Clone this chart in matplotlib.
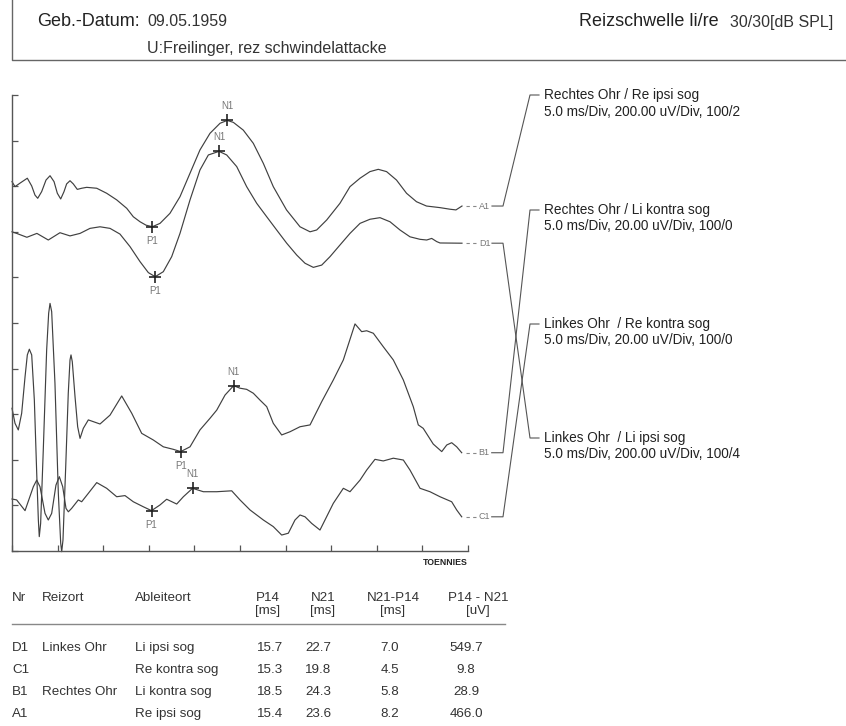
import numpy as np
import matplotlib
matplotlib.use('Agg')
import matplotlib.pyplot as plt

plt.rcParams['font.family'] = ['Liberation Sans', 'DejaVu Sans']

# averaged responses: latency [ms] / amplitude [uV]
a1_t = [0.0, 0.33, 0.86, 1.68, 2.16, 2.52, 2.82, 3.25, 3.73, 4.17, 4.61, 4.97, 5.34, 5.7, 5.99,
        6.36, 6.72, 7.16, 7.64, 8.19, 9.29, 10.38, 11.48, 12.58, 13.3, 14.04, 14.7, 15.4, 16.23,
        17.32, 18.42, 19.52, 20.61, 21.71, 22.81, 23.6, 24.27, 25.36, 26.46, 27.56, 28.65, 30.1,
        31.58, 32.68, 33.41, 34.51, 35.96, 37.06, 38.16, 39.25, 40.16, 41.07, 42.16, 43.26, 44.35,
        45.45, 46.93, 48.03, 48.68, 49.34]
a1_uv = [20, -2, 13, 35, 1, -39, -53, -24, 27, 46, 20, -31, -56, -24, 10,
         24, 10, -14, -9, -5, -9, -31, -60, -97, -134, -156, -171, -177.6, -163,
         -119, -46, 57, 159, 232, 276, 288.4, 280, 246, 188, 100, -2, -104,
         -178, -200, -192, -148, -75, -2, 35, 64, 74, 64, 27, -31, -68,
         -87, -94, -101, -104, -87]

d1_t = [0.0, 0.51, 1.63, 2.73, 3.98, 5.26, 6.36, 7.46, 8.55, 9.65, 10.75, 11.84, 12.94, 14.04,
        14.95, 15.7, 16.59, 17.51, 18.42, 19.52, 20.61, 21.53, 22.7, 23.54, 24.64, 25.73, 26.83,
        27.93, 29.02, 30.12, 31.22, 32.13, 33.04, 33.96, 34.87, 35.96, 37.06, 38.16, 39.25, 40.35,
        41.45, 42.54, 43.64, 44.74, 45.47, 46.02, 46.57, 46.93, 49.34]
d1_uv = [0, -7, -24, -7, -36, -4, -18, -7, 15, 22, 15, -10, -65, -131,
         -179, -196.9, -175, -109, -7, 140, 271, 337, 352.8, 337, 286, 198, 125,
         66, 8, -50, -102, -138, -156, -146, -109, -58, -7, 37, 55, 62,
         44, 8, -22, -33, -36, -29, -43, -49, -50]

b1_t = [0.0, 0.33, 0.69, 1.06, 1.43, 1.68, 1.9, 2.16, 2.45, 2.71, 2.89, 2.99, 3.14, 3.43, 3.8,
        4.02, 4.17, 4.35, 4.71, 5.08, 5.34, 5.45, 5.59, 5.89, 6.17, 6.36, 6.47, 6.61, 6.91, 7.2,
        7.46, 7.82, 8.37, 9.65, 10.75, 12.03, 13.13, 14.22, 15.49, 16.59, 17.68, 18.5, 19.52,
        20.61, 21.71, 22.45, 23.36, 24.3, 25.0, 25.73, 26.46, 27.19, 27.93, 28.65, 29.57, 30.48,
        31.58, 32.68, 33.96, 35.23, 36.33, 37.61, 38.34, 38.89, 39.62, 40.71, 41.81, 42.91, 44.0,
        44.55, 45.09, 46.19, 47.12, 47.67, 48.21, 48.76, 49.31]
b1_uv = [2.6, -4.0, -6.9, 0.4, 16.4, 26.0, 28.5, 26.0, 6.2, -25.9, -46.4, -53.7, -47.9, -15.7, 28.2,
         44.3, 48.6, 45.0, 13.6, -34.7, -56.6, -60.3, -55.2, -23.0, 9.2, 23.8, 26.0, 23.0, 7.7, -5.5,
         -10.6, -6.2, -2.5, -4.3, -0.4, 8.0, 0.4, -8.4, -11.3, -14.3, -15.4, -16.4, -14.3,
         -6.9, -1.8, 1.8, 8.4, 12.5, 11.4, 10.9, 9.2, 6.2, 3.3, -4.0, -9.1, -7.7,
         -5.5, -4.7, 5.5, 15.0, 23.8, 39.6, 36.2, 36.6, 35.5, 29.6, 23.8, 15.0, 3.3,
         -4.7, -6.2, -13.1, -16.4, -13.5, -12.5, -14.3, -16.9]

c1_t = [0.0, 0.51, 1.43, 2.34, 2.71, 3.07, 3.62, 3.98, 4.35, 4.82, 5.19, 5.56, 5.92, 6.18, 6.54,
        7.27, 7.64, 8.37, 9.29, 10.38, 11.48, 12.39, 13.3, 14.4, 15.3, 16.23, 16.96, 18.06, 18.79,
        19.8, 20.98, 22.45, 24.09, 25.0, 26.1, 27.56, 28.65, 29.57, 30.3, 31.03, 31.58, 32.13,
        32.86, 33.77, 34.32, 35.23, 36.33, 37.06, 38.16, 38.89, 39.8, 40.71, 41.81, 42.91, 43.64,
        44.74, 45.83, 46.93, 48.21, 48.76, 49.31]
c1_uv = [2.8, 2.4, -2.3, 8.2, 11.1, 8.2, -3.5, -6.4, -3.5, 8.9, 12.6, 8.2, -1.3, -2.8, -1.3,
         2.4, 1.6, 5.3, 10.0, 7.5, 3.8, 4.3, 1.6, -0.6, -2.3, 0.2, 2.7, 0.6, 3.8,
         7.5, 6.0, 6.0, 6.4, 2.4, -2.0, -6.4, -9.3, -13.0, -12.2, -6.4, -4.2, -5.0,
         -7.9, -10.8, -6.4, 0.9, 7.5, 6.0, 11.1, 15.5, 20.2, 19.5, 20.7, 19.9, 15.5,
         7.5, 6.0, 3.8, 1.6, -2.0, -5.0]

# result table
nr = ['D1', 'C1', 'B1', 'A1']
reizort = ['Linkes Ohr', '', 'Rechtes Ohr', '']
ableiteort = ['Li ipsi sog', 'Re kontra sog', 'Li kontra sog', 'Re ipsi sog']
p14 = [15.7, 15.3, 18.5, 15.4]
n21 = [22.7, 19.8, 24.3, 23.6]
amp = [549.7, 9.8, 28.9, 466.0]

legend_chan = ['A1', 'B1', 'C1', 'D1']
legend_title = ['Rechtes Ohr / Re ipsi sog', 'Rechtes Ohr / Li kontra sog',
                'Linkes Ohr  / Re kontra sog', 'Linkes Ohr  / Li ipsi sog']
legend_info = ['5.0 ms/Div, 200.00 uV/Div, 100/2', '5.0 ms/Div, 20.00 uV/Div, 100/0',
               '5.0 ms/Div, 20.00 uV/Div, 100/0', '5.0 ms/Div, 200.00 uV/Div, 100/4']

# channel -> (t, uV, uV per div, baseline div)
traces = {
    'A1': (a1_t, a1_uv, 200, 8),
    'D1': (d1_t, d1_uv, 200, 7),
    'B1': (b1_t, b1_uv, 20, 3),
    'C1': (c1_t, c1_uv, 20, 1),
}

W, H = 846, 726
fig = plt.figure(figsize=(W / 100, H / 100), dpi=100)
ax = fig.add_axes([12 / W, 1 - 551 / H, 456 / W, 456 / H])
ax.set_xlim(0, 50)
ax.set_ylim(0, 10)
ax.set_xticks(np.arange(0, 51, 5))
ax.set_yticks(np.arange(0, 11, 1))
ax.tick_params(direction='in', length=4, width=0.9, color='#555555',
               labelbottom=False, labelleft=False)
ax.spines['top'].set_visible(False)
ax.spines['right'].set_visible(False)
for s in ('left', 'bottom'):
    ax.spines[s].set_color('#555555')
    ax.spines[s].set_linewidth(1.0)

# page overlay in pixel units (y down)
ov = fig.add_axes([0, 0, 1, 1])
ov.set_xlim(0, W)
ov.set_ylim(H, 0)
ov.axis('off')


def to_px(t, y):
    X, Y = ax.transData.transform((t, y))
    return X, H - Y


ends = {}
for ch, (t, uv, scale, base) in traces.items():
    t = np.array(t)
    y = base + np.array(uv) / scale
    ax.plot(t, y, color='#404040', lw=0.85, clip_on=False)
    i = nr.index(ch)
    yp = np.interp(p14[i], t, y)
    yn = np.interp(n21[i], t, y)
    ax.plot([p14[i], n21[i]], [yp, yn], '+', ms=8, mew=1.2, color='#222222')
    ax.annotate('P1', (p14[i], yp), xytext=(0, -14), textcoords='offset pixels',
                ha='center', va='center', fontsize=7, color='#777777')
    ax.annotate('N1', (n21[i], yn), xytext=(0, 14), textcoords='offset pixels',
                ha='center', va='center', fontsize=7, color='#777777')
    ends[ch] = to_px(t[-1], y[-1])

ax.text(50, -0.25, 'TOENNIES', ha='right', va='center', fontsize=6.3,
        fontweight='bold', color='#222222')

# channel tags and leader lines to the legend
leg_y = [95, 210, 324, 438]
for ch, ly, l1, l2 in zip(legend_chan, leg_y, legend_title, legend_info):
    ex, ey = ends[ch]
    ov.plot([ex + 4, ex + 14], [ey, ey], ls=(0, (3, 3)), color='#888888', lw=0.8)
    ov.text(ex + 17, ey, ch, va='center', ha='left', fontsize=6.5, color='#777777')
    ov.plot([ex + 30, 503, 530, 539], [ey, ey, ly, ly], color='#555555', lw=0.8)
    ov.text(544, ly, l1, va='center', ha='left', fontsize=9.8, color='#222222')
    ov.text(544, ly + 16.5, l2, va='center', ha='left', fontsize=9.8, color='#222222')

# header block
ov.plot([12, 12, W], [0, 60, 60], color='#666666', lw=1.0)
ov.text(37, 22, 'Geb.-Datum:', va='center', ha='left', fontsize=13, color='#222222')
ov.text(147, 22, '09.05.1959', va='center', ha='left', fontsize=11.5, color='#333333')
ov.text(147, 48, 'U:Freilinger, rez schwindelattacke', va='center', ha='left',
        fontsize=11.5, color='#333333')
ov.text(719, 22, 'Reizschwelle li/re', va='center', ha='right', fontsize=13, color='#222222')
ov.text(730, 22, '30/30[dB SPL]', va='center', ha='left', fontsize=11.5, color='#333333')

# result table
fs = 9.6
tc = '#333333'
col_l = [12, 42, 135]
col_h = [268, 323, 393, 478]
col_v = [270, 318, 390, 466]
for x, s in zip(col_l, ['Nr', 'Reizort', 'Ableiteort']):
    ov.text(x, 598, s, va='center', ha='left', fontsize=fs, color=tc)
for x, s, u in zip(col_h, ['P14', 'N21', 'N21-P14', 'P14 - N21'],
                   ['[ms]', '[ms]', '[ms]', '[uV]']):
    ov.text(x, 598, s, va='center', ha='center', fontsize=fs, color=tc)
    ov.text(x, 611, u, va='center', ha='center', fontsize=fs, color=tc)
ov.plot([12, 505], [624, 624], color='#888888', lw=1.0)

for i in range(len(nr)):
    ry = 648 + 22 * i
    ov.text(col_l[0], ry, nr[i], va='center', ha='left', fontsize=fs, color=tc)
    ov.text(col_l[1], ry, reizort[i], va='center', ha='left', fontsize=fs, color=tc)
    ov.text(col_l[2], ry, ableiteort[i], va='center', ha='left', fontsize=fs, color=tc)
    vals = [p14[i], n21[i], n21[i] - p14[i], amp[i]]
    for x, v in zip(col_v, vals):
        ov.text(x, ry, f'{v:.1f}', va='center', ha='center', fontsize=fs, color=tc)

fig.savefig('out.png', dpi=100)
